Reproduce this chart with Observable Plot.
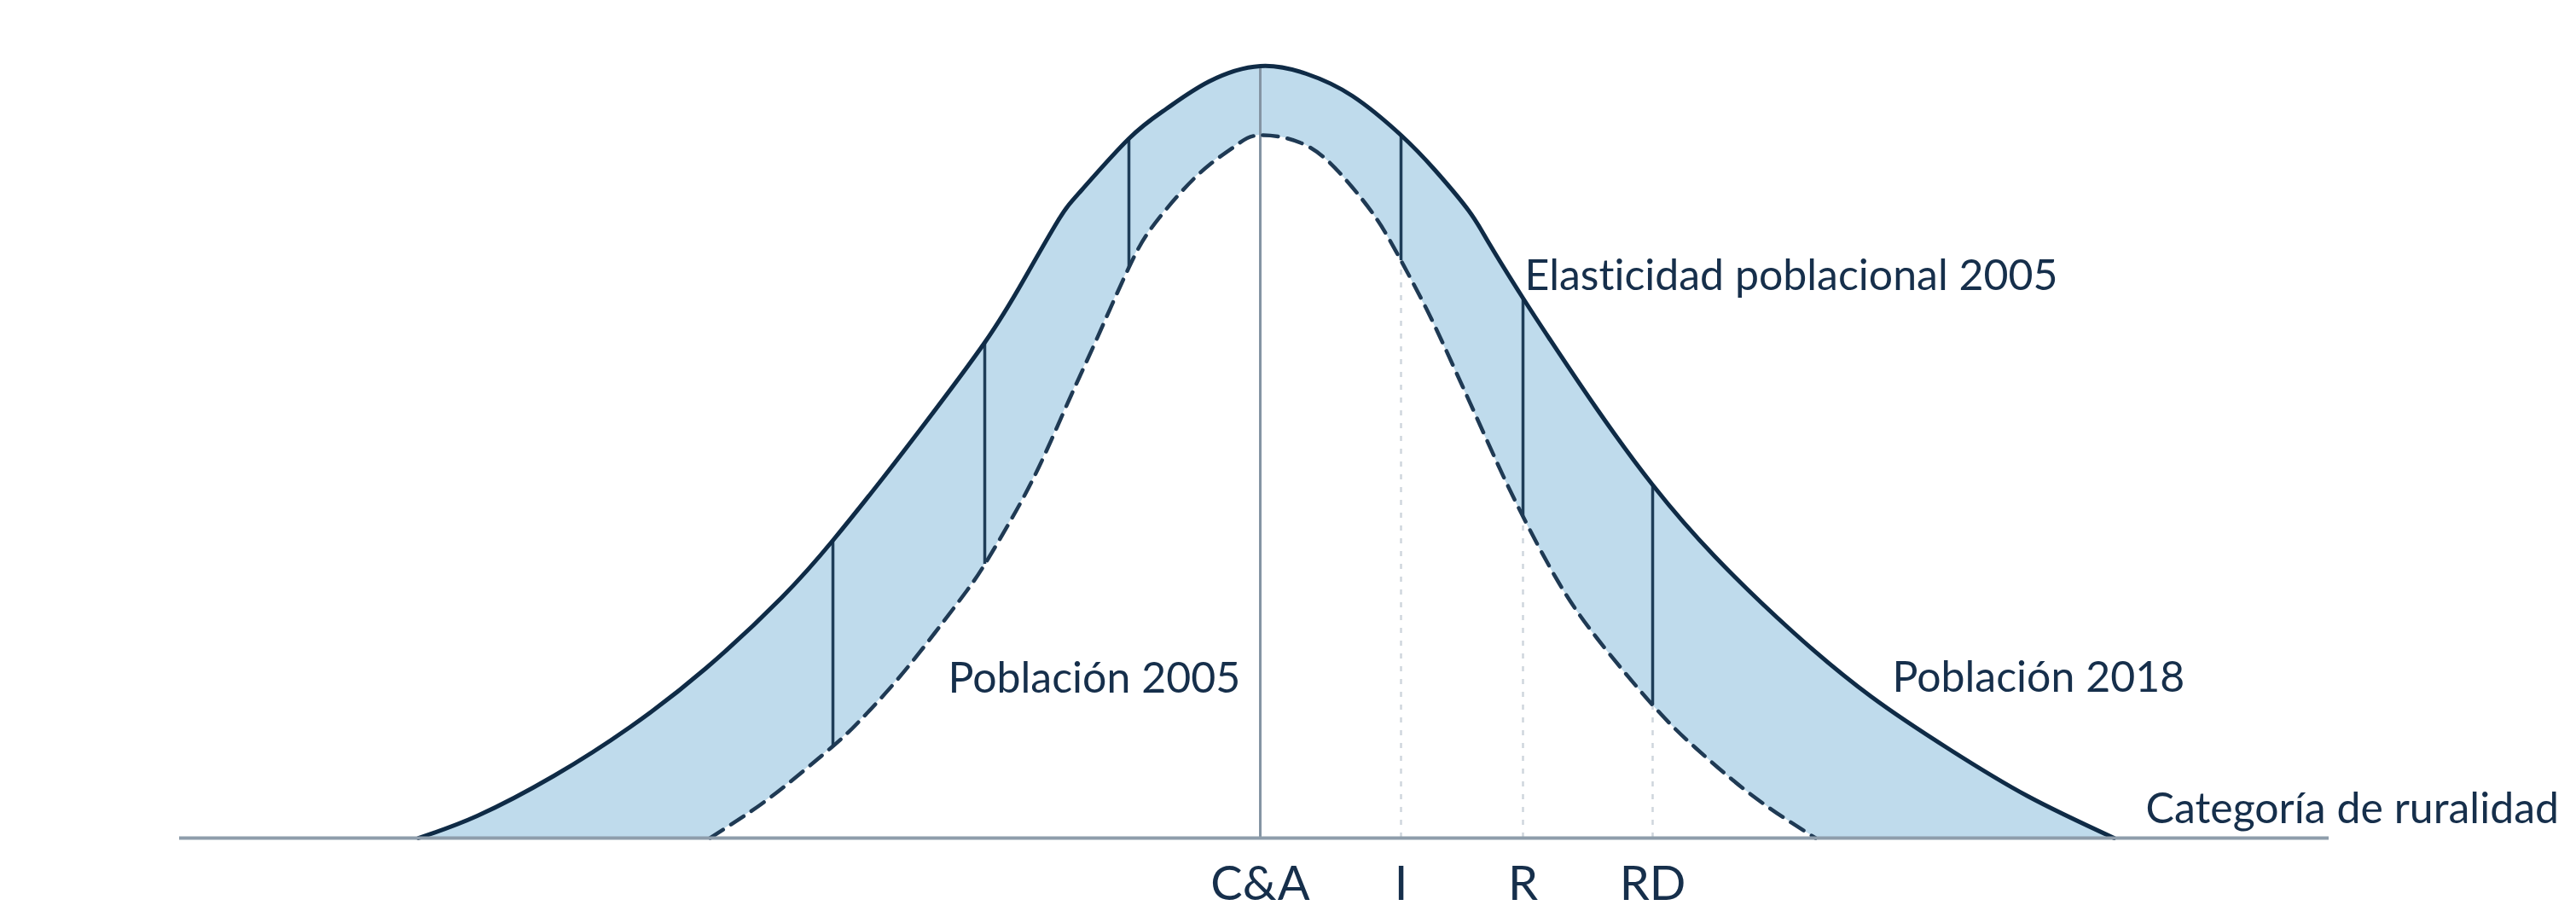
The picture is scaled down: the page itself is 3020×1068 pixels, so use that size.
<!DOCTYPE html>
<html>
<head>
<meta charset="utf-8">
<script src="https://cdn.jsdelivr.net/npm/d3@7"></script>
<script src="https://cdn.jsdelivr.net/npm/@observablehq/plot@0.6"></script>
<style>
  html, body { margin: 0; padding: 0; background: #ffffff; }
  #chart svg { display: block; }
  #chart svg text { font-variant-ligatures: none; font-feature-settings: "liga" 0, "clig" 0; }
</style>
</head>
<body>
<div id="chart"></div>
<script>
// ---- Data (x: position on rurality axis, C&A = 0; y: population height) ----
const categories = ["C&A", "I", "R", "RD"];
const categoryX = [0, 1.65, 3.08, 4.60];

// Población 2018 (solid curve)
const pop2018X = [-9.87, -9.18, -8.28, -7.39, -6.50, -5.61, -5.01, -4.44, -3.94, -3.23, -2.77, -2.37, -2.10, -1.54, -1.10, -0.60, 0, 0.54, 1.08, 1.65, 2.04, 2.44, 2.69, 3.08, 3.40, 3.94, 4.60, 5.33, 6.24, 7.16, 8.08, 9.00, 10.01];
const pop2018Y = [0, 0.26, 0.73, 1.30, 1.99, 2.82, 3.49, 4.20, 4.85, 5.81, 6.55, 7.24, 7.59, 8.20, 8.55, 8.87, 9.05, 8.96, 8.70, 8.24, 7.84, 7.36, 6.96, 6.33, 5.84, 5.04, 4.14, 3.30, 2.42, 1.66, 1.04, 0.49, 0];

// Población 2005 (dashed curve)
const pop2005X = [-6.45, -6.05, -5.61, -5.03, -4.71, -4.27, -3.82, -3.44, -3.23, -2.94, -2.60, -2.24, -1.94, -1.54, -1.27, -0.94, -0.60, -0.27, 0, 0.54, 1.01, 1.37, 1.65, 1.97, 2.26, 2.51, 2.79, 3.08, 3.49, 3.95, 4.60, 5.10, 5.78, 6.51];
const pop2005Y = [0, 0.26, 0.58, 1.06, 1.36, 1.84, 2.40, 2.90, 3.21, 3.70, 4.34, 5.14, 5.80, 6.69, 7.16, 7.56, 7.89, 8.13, 8.24, 8.12, 7.71, 7.25, 6.77, 6.16, 5.54, 4.99, 4.37, 3.77, 3.01, 2.34, 1.56, 1.06, 0.49, 0];

// Elasticity segments (between the two curves)
const elasticityX = [-5.01, -3.23, -1.54, 1.65, 3.08, 4.60];
const elasticityTop = [3.49, 5.81, 8.20, 8.24, 6.33, 4.14];
const elasticityBottom = [1.06, 3.21, 6.69, 6.77, 3.77, 1.56];

// Annotation texts
const labelTexts = ["Elasticidad poblacional 2005", "Población 2005", "Población 2018", "Categoría de ruralidad"];

// ---- Tables built from the arrays ----
const pop2018 = pop2018X.map((x, i) => ({x, y: pop2018Y[i]}));
const pop2005 = pop2005X.map((x, i) => ({x, y: pop2005Y[i]}));
const elasticity = elasticityX.map((x, i) => ({x, top: elasticityTop[i], bottom: elasticityBottom[i]}));
const categoryRules = categories.slice(1).map((c, i) => {
  const k = elasticityX.indexOf(categoryX[i + 1]);
  return {x: categoryX[i + 1], y: elasticityBottom[k]};
});
const catLabel = new Map(categoryX.map((x, i) => [x, categories[i]]));
const peak2018 = d3.max(pop2018Y);

// annotation anchors (in data coordinates)
const labelAnchors = [
  {x: 3.10, y: 6.43},
  {x: -3.66, y: 1.71},
  {x: 7.41, y: 1.72},
  {x: 10.38, y: 0.18}
];
const labels = labelTexts.map((t, i) => ({text: t, ...labelAnchors[i]}));

const navy = "#0f2b46";
const textColor = "#162f4b";
const fillBlue = "#bfdbec";
const axisGray = "#8e9dab";
const smooth = "natural";

const chart = Plot.plot({
  width: 3020,
  height: 1068,
  marginLeft: 210,
  marginRight: 290,
  marginTop: 32,
  marginBottom: 86,
  x: {domain: [-12.67, 12.53]},
  y: {domain: [0, 9.5], axis: null},
  style: {fontFamily: "Lato, 'Open Sans', sans-serif", background: "#ffffff", color: textColor},
  marks: [
    Plot.areaY(pop2018, {x: "x", y: "y", fill: fillBlue, curve: smooth}),
    Plot.areaY(pop2005, {x: "x", y: "y", fill: "#ffffff", curve: smooth}),
    Plot.ruleX(categoryRules, {x: "x", y1: 0, y2: "y", stroke: "#cfd6dd", strokeWidth: 2.5, strokeDasharray: "6,9"}),
    Plot.ruleX([0], {y1: 0, y2: peak2018, stroke: "#8494a3", strokeWidth: 3}),
    Plot.ruleX(elasticity, {x: "x", y1: "bottom", y2: "top", stroke: "#1e3d58", strokeWidth: 3.5}),
    Plot.line(pop2005, {x: "x", y: "y", stroke: "#1f3a54", strokeWidth: 4.5, strokeDasharray: "18,11", curve: smooth}),
    Plot.line(pop2018, {x: "x", y: "y", stroke: navy, strokeWidth: 5, curve: smooth, strokeLinecap: "round"}),
    Plot.ruleY([0], {stroke: axisGray, strokeWidth: 4}),
    Plot.axisX(categoryX, {tickSize: 0, tickPadding: 33, tickFormat: d => catLabel.get(d), fontSize: 56, fill: textColor, label: null}),
    Plot.text(labels, {x: "x", y: "y", text: "text", textAnchor: "start", lineAnchor: "bottom", fontSize: 50, fill: textColor})
  ]
});

document.getElementById("chart").appendChild(chart);
</script>
</body>
</html>
